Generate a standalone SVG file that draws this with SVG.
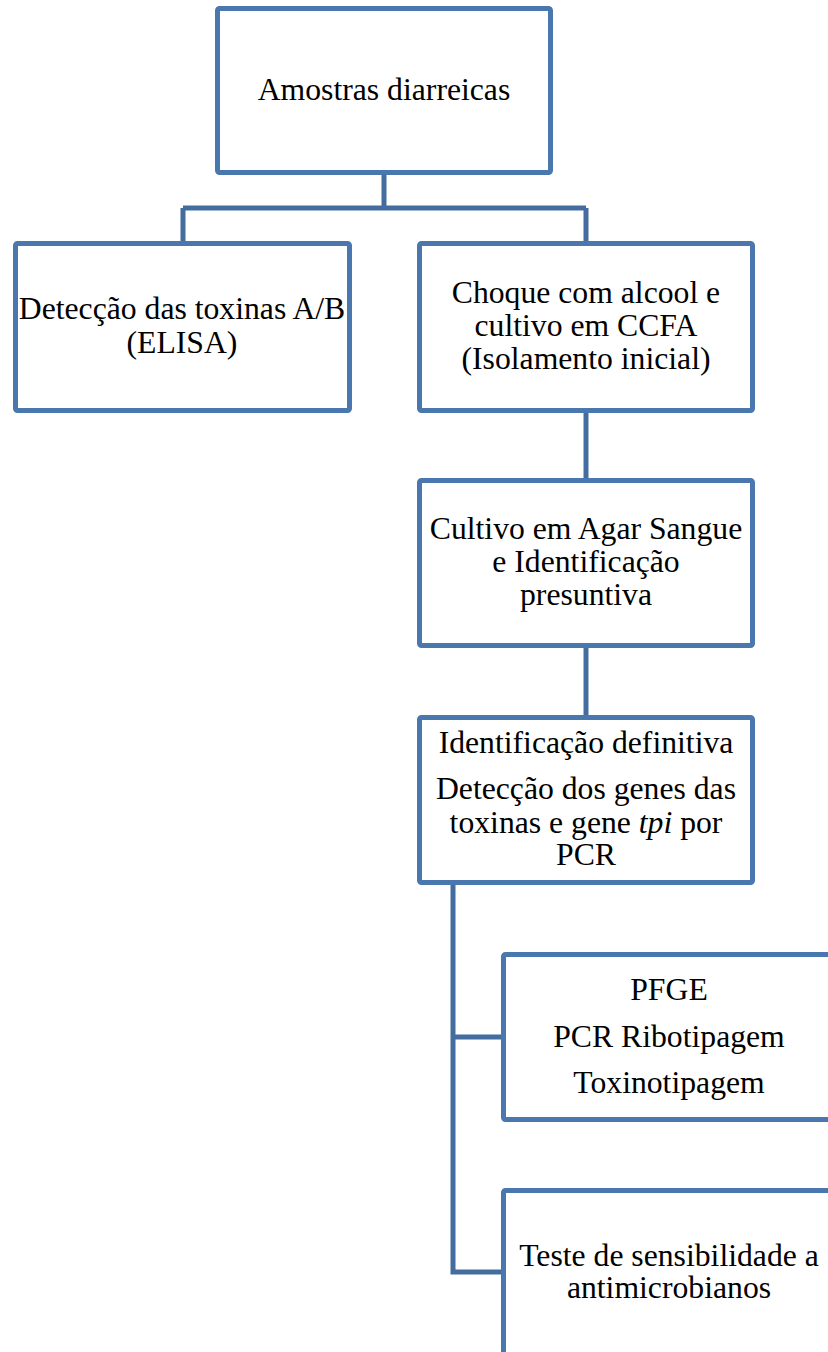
<svg xmlns="http://www.w3.org/2000/svg" width="828" height="1352" viewBox="0 0 828 1352">
<style>
.box{fill:#fff;stroke:#4a77ae;stroke-width:5}
.conn{fill:none;stroke:#446d9f;stroke-width:5;stroke-linejoin:miter}
text{font-family:"Liberation Serif","Times New Roman",serif;font-size:31.7px;fill:#000;text-anchor:middle}
</style>
<rect width="828" height="1352" fill="#fff"/>
<g id="connectors">
<path class="conn" d="M384 175V208M183 208H586M183 208V241M586 208V241"/>
<path class="conn" d="M586 413V478"/>
<path class="conn" d="M586 648V715"/>
<path class="conn" d="M453 885V1272H501M453 1037H501"/>
</g>
<g id="n1">
<rect class="box" x="217.5" y="8.5" width="333" height="164" rx="2"/>
<text x="384" y="100">Amostras diarreicas</text>
</g>
<g id="n2">
<rect class="box" x="15.5" y="243.5" width="334" height="167" rx="2"/>
<text x="182" y="319">Detecção das toxinas A/B</text>
<text x="182" y="353">(ELISA)</text>
</g>
<g id="n3">
<rect class="box" x="419.5" y="243.5" width="333" height="167" rx="2"/>
<text x="586" y="303">Choque com alcool e</text>
<text x="586" y="336">cultivo em CCFA</text>
<text x="586" y="369">(Isolamento inicial)</text>
</g>
<g id="n4">
<rect class="box" x="419.5" y="480.5" width="333" height="165" rx="2"/>
<text x="586" y="539">Cultivo em Agar Sangue</text>
<text x="586" y="572">e Identificação</text>
<text x="586" y="605">presuntiva</text>
</g>
<g id="n5">
<rect class="box" x="419.5" y="717.5" width="333" height="165" rx="2"/>
<text x="586" y="753">Identificação definitiva</text>
<text x="586" y="799">Detecção dos genes das</text>
<text x="586" y="833">toxinas e gene <tspan font-style="italic">tpi</tspan> por</text>
<text x="586" y="865">PCR</text>
</g>
<g id="n6">
<rect class="box" x="503.5" y="954.5" width="333" height="165" rx="2"/>
<text x="669" y="1000">PFGE</text>
<text x="669" y="1047">PCR Ribotipagem</text>
<text x="669" y="1093">Toxinotipagem</text>
</g>
<g id="n7">
<rect class="box" x="503.5" y="1190.5" width="333" height="165" rx="2"/>
<text x="669" y="1266">Teste de sensibilidade a</text>
<text x="669" y="1298">antimicrobianos</text>
</g>
</svg>
